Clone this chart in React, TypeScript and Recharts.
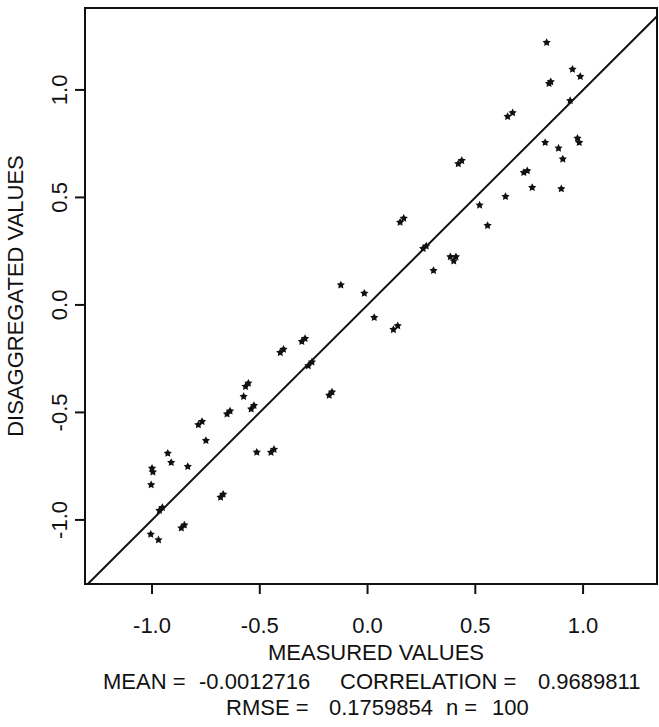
import React from "react";
import {
  ScatterChart,
  Scatter,
  XAxis,
  YAxis,
  ReferenceLine,
  ReferenceArea,
} from "recharts";

const measured = [
  0.831, 0.951, 0.987, 0.842, 0.85, 0.94, 0.65, 0.673, 0.824, 0.974, 0.982, 0.886,
  0.906, 0.421, 0.437, 0.725, 0.741, 0.764, 0.899, 0.64, 0.52, 0.557, 0.151, 0.168,
  0.258, 0.272, 0.384, 0.41, 0.4, 0.306, -0.124, -0.015, 0.031, 0.12, 0.14, -0.178,
  -0.165, -0.305, -0.29, -0.405, -0.39, -0.275, -0.258, -0.566, -0.553, -0.575, -0.54,
  -0.527, -0.652, -0.638, -0.785, -0.768, -0.75, -0.514, -0.448, -0.434, -0.927, -0.911,
  -0.834, -1.0, -0.996, -1.004, -0.682, -0.67, -0.966, -0.952, -0.864, -0.85, -1.006,
  -0.97,
];
const disaggregated = [
  1.22, 1.096, 1.062, 1.03, 1.038, 0.95, 0.876, 0.894, 0.755, 0.775, 0.755, 0.729,
  0.678, 0.656, 0.671, 0.616, 0.624, 0.546, 0.54, 0.504, 0.464, 0.369, 0.384, 0.403,
  0.262, 0.274, 0.224, 0.224, 0.204, 0.16, 0.093, 0.054, -0.059, -0.115, -0.097, -0.42,
  -0.405, -0.17, -0.156, -0.222, -0.206, -0.283, -0.266, -0.38, -0.364, -0.426, -0.484,
  -0.468, -0.508, -0.494, -0.558, -0.542, -0.631, -0.685, -0.686, -0.672, -0.69, -0.733,
  -0.752, -0.76, -0.777, -0.837, -0.895, -0.881, -0.956, -0.942, -1.038, -1.024, -1.067,
  -1.093,
];

const axisTicks = [-1.0, -0.5, 0.0, 0.5, 1.0];
const xDomain = [-1.311, 1.343];
const yDomain = [-1.298, 1.381];

const statLine1 = ["MEAN =", "-0.0012716", "CORRELATION =", "0.9689811"];
const statLine2 = ["RMSE =", "0.1759854", "n =", "100"];

const FONT = "'Liberation Sans', Arial, Helvetica, sans-serif";
const INK = "#111";

const points = measured.map((x, i) => ({ x, y: disaggregated[i] }));

const Star = (props: any) => {
  const { cx, cy } = props;
  if (cx == null || cy == null) return null;
  const pts: string[] = [];
  for (let k = 0; k < 10; k++) {
    const r = k % 2 === 0 ? 4.3 : 2.2;
    const a = (Math.PI / 5) * k - Math.PI / 2;
    pts.push(`${cx + r * Math.cos(a)},${cy + r * Math.sin(a)}`);
  }
  return <polygon points={pts.join(" ")} fill={INK} />;
};

const YTick = (props: any) => {
  const { x, y, payload } = props;
  return (
    <text
      transform={`translate(${x},${y}) rotate(-90)`}
      textAnchor="middle"
      fontSize={22}
      fontFamily={FONT}
      fill={INK}
    >
      {payload.value.toFixed(1)}
    </text>
  );
};

const App: React.FC = () => {
  return (
    <div style={{ position: "absolute", left: 0, top: 0, width: 659, height: 727, background: "#fff" }}>
      <ScatterChart
        width={659}
        height={727}
        margin={{ top: 8, right: 2, bottom: 0, left: 0 }}
      >
        <XAxis
          type="number"
          dataKey="x"
          domain={xDomain}
          ticks={axisTicks}
          tickFormatter={(v: number) => v.toFixed(1)}
          allowDataOverflow
          tickSize={10}
          tickMargin={23}
          height={143}
          axisLine={false}
          tickLine={{ stroke: INK, strokeWidth: 2 }}
          tick={{ fontSize: 22, fontFamily: FONT, fill: INK }}
        />
        <YAxis
          type="number"
          dataKey="y"
          domain={yDomain}
          ticks={axisTicks}
          allowDataOverflow
          width={85}
          tickSize={10}
          tickMargin={8}
          axisLine={false}
          tickLine={{ stroke: INK, strokeWidth: 2 }}
          tick={<YTick />}
        />
        <ReferenceArea
          x1={xDomain[0]}
          x2={xDomain[1]}
          y1={yDomain[0]}
          y2={yDomain[1]}
          fill="none"
          fillOpacity={0}
          stroke={INK}
          strokeWidth={2}
        />
        <ReferenceLine
          segment={[
            { x: yDomain[0], y: yDomain[0] },
            { x: xDomain[1], y: xDomain[1] },
          ]}
          stroke={INK}
          strokeWidth={2}
          ifOverflow="visible"
        />
        <Scatter data={points} shape={<Star />} isAnimationActive={false} />
      </ScatterChart>

      <svg
        width={659}
        height={727}
        style={{ position: "absolute", left: 0, top: 0, pointerEvents: "none" }}
        fontFamily={FONT}
        fontSize={22}
        fill={INK}
      >
        <text transform="translate(23,296) rotate(-90)" textAnchor="middle">
          DISAGGREGATED VALUES
        </text>
        <text x={376} y={660} textAnchor="middle">
          MEASURED VALUES
        </text>
        <text x={103} y={689}>{statLine1[0]}</text>
        <text x={199} y={689}>{statLine1[1]}</text>
        <text x={340} y={689}>{statLine1[2]}</text>
        <text x={538} y={689}>{statLine1[3]}</text>
        <text x={226} y={715}>{statLine2[0]}</text>
        <text x={329} y={715}>{statLine2[1]}</text>
        <text x={446} y={715}>{statLine2[2]}</text>
        <text x={492} y={715}>{statLine2[3]}</text>
      </svg>
    </div>
  );
};

export default App;
